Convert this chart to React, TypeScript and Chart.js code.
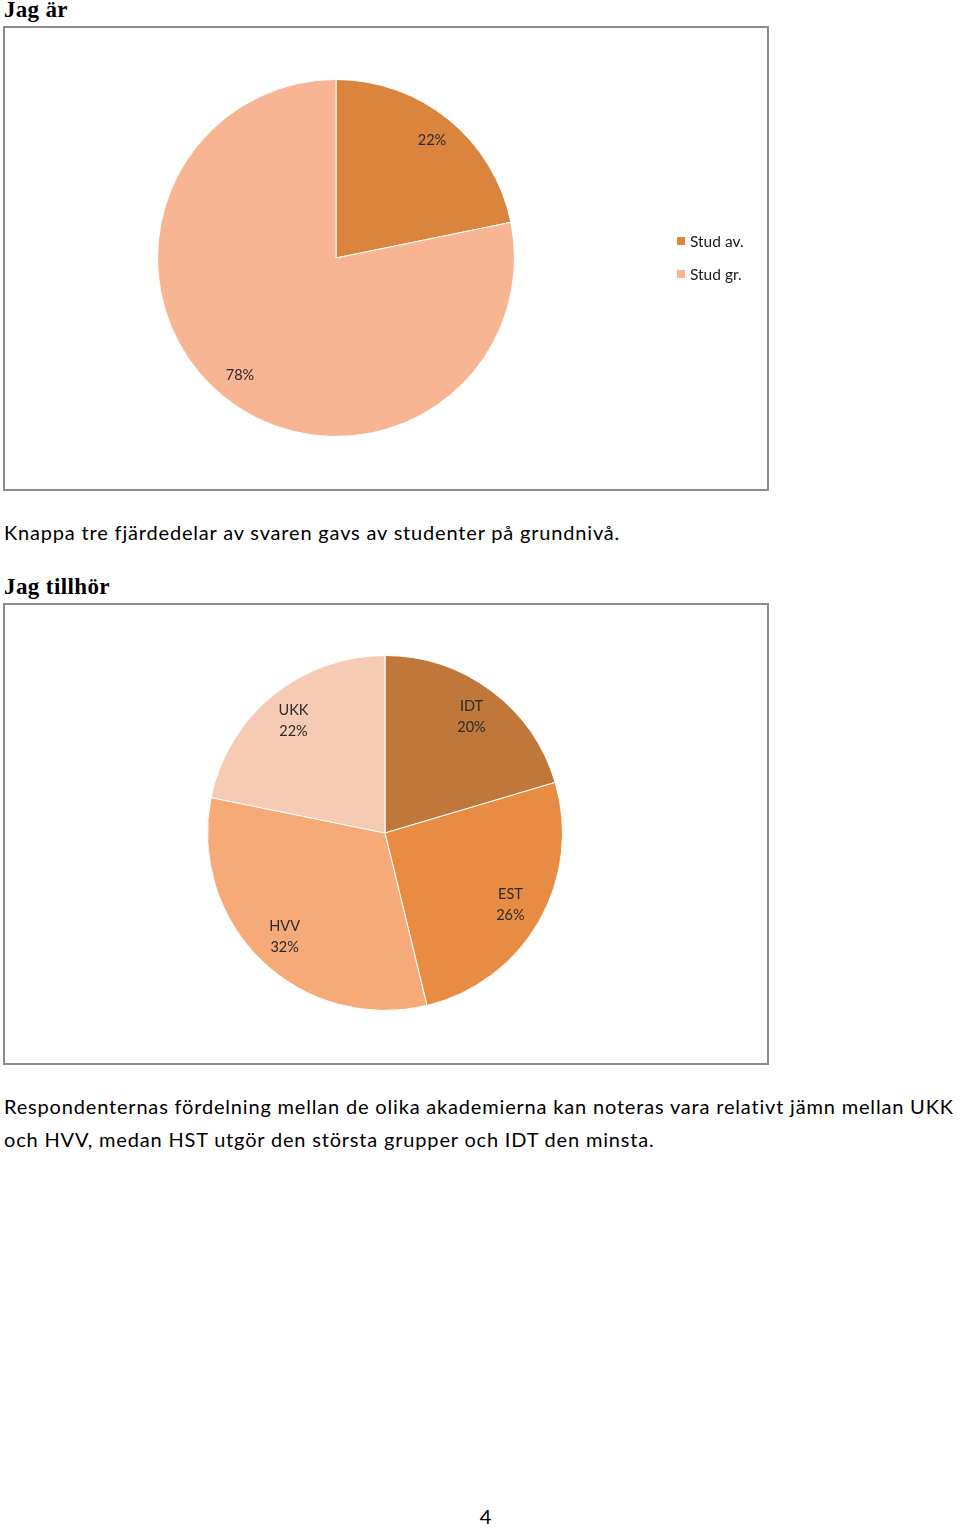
import React, { useEffect, useRef } from "react";
import { Chart, registerables } from "chart.js";

Chart.register(...registerables);

// ---- Data ----
const levelLabels = ["Stud av.", "Stud gr."];
const levelValues = [21.8, 78.2];
const levelColors = ["#DB843D", "#F8B593"];

const academyLabels = ["IDT", "EST", "HVV", "UKK"];
const academyValues = [20.4, 25.8, 32.0, 21.8];
const academyColors = ["#C0773A", "#E88C44", "#F5AA78", "#F7CBB3"];

const heading1 = "Jag är";
const heading2 = "Jag tillhör";
const para1 = "Knappa tre fjärdedelar av svaren gavs av studenter på grundnivå.";
const para2a = "Respondenternas fördelning mellan de olika akademierna kan noteras vara relativt jämn mellan UKK";
const para2b = "och HVV, medan HST utgör den största grupper och IDT den minsta.";
const pageNumber = "4";

const LABEL_FONT = "Lato, 'Liberation Sans', sans-serif";

const pieLabelPlugin = {
  id: "pieLabels",
  afterDatasetsDraw(chart: any, _args: any, opts: any) {
    const ctx = chart.ctx;
    const meta = chart.getDatasetMeta(0);
    const data = chart.data.datasets[0].data as number[];
    const total = data.reduce((a, b) => a + b, 0);
    ctx.save();
    ctx.font = `${opts.fontSize || 14}px ${LABEL_FONT}`;
    ctx.fillStyle = opts.color || "#2b2b2b";
    ctx.textAlign = "center";
    ctx.textBaseline = "middle";
    meta.data.forEach((arc: any, i: number) => {
      const p = arc.getProps(["x", "y", "startAngle", "endAngle", "outerRadius"], true);
      const mid = (p.startAngle + p.endAngle) / 2;
      const r = p.outerRadius * (opts.factor || 0.82);
      const x = p.x + Math.cos(mid) * r;
      const y = p.y + Math.sin(mid) * r;
      const pct = Math.round((data[i] / total) * 100) + "%";
      if (opts.showName) {
        const lh = opts.lineHeight || 21;
        ctx.fillText(String(chart.data.labels[i]), x, y - lh / 2);
        ctx.fillText(pct, x, y + lh / 2);
      } else {
        ctx.fillText(pct, x, y);
      }
    });
    ctx.restore();
  },
};

const sideLegendPlugin = {
  id: "sideLegend",
  afterDraw(chart: any, _args: any, opts: any) {
    if (!opts || !opts.show) return;
    const ctx = chart.ctx;
    const labels = chart.data.labels as string[];
    const colors = chart.data.datasets[0].backgroundColor as string[];
    ctx.save();
    ctx.font = `${opts.fontSize}px ${LABEL_FONT}`;
    ctx.textBaseline = "middle";
    ctx.textAlign = "left";
    labels.forEach((lab, i) => {
      const y = opts.y + i * opts.spacing;
      ctx.fillStyle = colors[i];
      ctx.fillRect(opts.x, y - opts.box / 2, opts.box, opts.box);
      ctx.fillStyle = "#1a1a1a";
      ctx.fillText(lab, opts.x + opts.box + 5, y + 1);
    });
    ctx.restore();
  },
};

function PieChart(props: {
  labels: string[];
  values: number[];
  colors: string[];
  width: number;
  height: number;
  padding: { top: number; bottom: number; left: number; right: number };
  showName: boolean;
  legend?: any;
}) {
  const ref = useRef<HTMLCanvasElement>(null);
  useEffect(() => {
    if (!ref.current) return;
    const chart = new Chart(ref.current, {
      type: "pie",
      data: {
        labels: props.labels,
        datasets: [
          {
            data: props.values,
            backgroundColor: props.colors,
            borderColor: "#ffffff",
            borderWidth: 1,
            hoverOffset: 0,
          },
        ],
      },
      options: {
        animation: false,
        responsive: false,
        maintainAspectRatio: false,
        layout: { padding: props.padding },
        plugins: {
          legend: { display: false },
          tooltip: { enabled: false },
          pieLabels: { showName: props.showName, factor: props.showName ? 0.815 : 0.85, fontSize: 14.5, lineHeight: 21 },
          sideLegend: props.legend || { show: false },
        } as any,
      },
      plugins: [pieLabelPlugin, sideLegendPlugin],
    });
    return () => chart.destroy();
  }, []);
  return (
    <canvas
      ref={ref}
      width={props.width}
      height={props.height}
      style={{ width: props.width, height: props.height, display: "block" }}
    />
  );
}

const bodyFont: React.CSSProperties = {
  fontFamily: "Lato, 'Liberation Sans', sans-serif",
  fontSize: 20,
  letterSpacing: "0.82px",
  color: "#000",
  whiteSpace: "nowrap",
  position: "absolute",
  left: 4,
  lineHeight: "33px",
};

const headFont: React.CSSProperties = {
  fontFamily: "'Liberation Serif', 'DejaVu Serif', serif",
  fontWeight: "bold",
  fontSize: 23,
  color: "#000",
  whiteSpace: "nowrap",
  position: "absolute",
  left: 4,
  lineHeight: "26px",
};

const boxStyle: React.CSSProperties = {
  position: "absolute",
  left: 3,
  border: "2px solid #8c8c8c",
  background: "#fff",
  boxSizing: "border-box",
};

export default function App() {
  return (
    <div
      style={{
        position: "absolute",
        left: 0,
        top: 0,
        width: 960,
        height: 1528,
        background: "#fff",
        overflow: "hidden",
      }}
    >
      <div style={{ ...headFont, top: -3, letterSpacing: "0.3px" }}>{heading1}</div>
      <div style={{ ...boxStyle, top: 26, width: 766, height: 465 }}>
        <PieChart
          labels={levelLabels}
          values={levelValues}
          colors={levelColors}
          width={762}
          height={461}
          padding={{ top: 51, bottom: 52, left: 152, right: 252 }}
          showName={false}
          legend={{ show: true, x: 672, y: 213, spacing: 33, box: 8, fontSize: 15.5 }}
        />
      </div>
      <div style={{ ...bodyFont, top: 516 }}>{para1}</div>
      <div style={{ ...headFont, top: 574, letterSpacing: "0.4px" }}>{heading2}</div>
      <div style={{ ...boxStyle, top: 603, width: 766, height: 462 }}>
        <PieChart
          labels={academyLabels}
          values={academyValues}
          colors={academyColors}
          width={762}
          height={458}
          padding={{ top: 50, bottom: 52, left: 202, right: 204 }}
          showName={true}
        />
      </div>
      <div style={{ ...bodyFont, top: 1090 }}>
        {para2a}
        <br />
        {para2b}
      </div>
      <div
        style={{
          ...bodyFont,
          left: 0,
          width: 972,
          textAlign: "center",
          top: 1500,
        }}
      >
        {pageNumber}
      </div>
    </div>
  );
}
